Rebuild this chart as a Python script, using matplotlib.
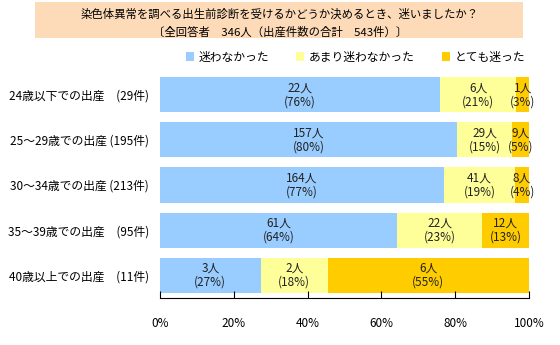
import numpy as np
import matplotlib
matplotlib.use('Agg')
import matplotlib.pyplot as plt
from matplotlib.patches import Rectangle

plt.rcParams['font.family'] = ['Noto Sans CJK JP', 'DejaVu Sans']

# データ
categories = ['24歳以下での出産　(29件)', '25～29歳での出産 (195件)', '30～34歳での出産 (213件)',
              '35～39歳での出産　(95件)', '40歳以上での出産　(11件)']
series_names = ['迷わなかった', 'あまり迷わなかった', 'とても迷った']
not_hesitant = [22, 157, 164, 61, 3]
little_hesitant = [6, 29, 41, 22, 2]
very_hesitant = [1, 9, 8, 12, 6]
pct_labels = [[76, 21, 3], [80, 15, 5], [77, 19, 4], [64, 23, 13], [27, 18, 55]]
colors = ['#99CCFF', '#FFFF99', '#FFCC00']

counts = np.array([not_hesitant, little_hesitant, very_hesitant], dtype=float)
totals = counts.sum(axis=0)
shares = counts / totals * 100

fig = plt.figure(figsize=(5.6, 3.45), dpi=100)
ax = fig.add_axes([0.2857, 0.1362, 0.659, 0.655])

y = np.arange(len(categories))
left = np.zeros(len(categories))
for i in range(3):
    ax.barh(y, shares[i], left=left, height=0.78, color=colors[i], label=series_names[i])
    for j in range(len(categories)):
        cx = left[j] + shares[i][j] / 2
        ax.text(cx, y[j], f'{int(counts[i][j])}人\n({pct_labels[j][i]}%)', ha='center', va='center',
                fontsize=8.5, linespacing=1.1, color='#222222')
    left += shares[i]

ax.set_ylim(len(categories) - 0.5, -0.5)
ax.set_xlim(0, 100)
ax.set_yticks(y)
ax.set_yticklabels(categories, fontsize=8.5)
ax.tick_params(axis='y', length=0, pad=8)
ax.set_xticks(np.arange(0, 101, 20))
ax.set_xticklabels([f'{v}%' for v in range(0, 101, 20)], fontsize=8.5)
ax.tick_params(axis='x', direction='in', length=5, pad=14)
for s in ['top', 'right', 'left']:
    ax.spines[s].set_visible(False)

# タイトル
fig.patches.append(Rectangle((35 / 560, 1 - 38 / 345), 488 / 560, 36 / 345,
                             transform=fig.transFigure, fc='#FDDAB8', ec='none'))
fig.text(0.5, 1 - 14 / 345, '染色体異常を調べる出生前診断を受けるかどうか決めるとき、迷いましたか？',
         ha='center', va='center', fontsize=8.2)
fig.text(0.5, 1 - 32 / 345, '〔全回答者　346人（出産件数の合計　543件）〕',
         ha='center', va='center', fontsize=8.2)

fig.legend(loc='center', bbox_to_anchor=(0.635, 1 - 57 / 345), ncol=3, frameon=False,
           fontsize=8.5, handlelength=0.7, handleheight=0.7, handletextpad=0.4, columnspacing=2.3)

fig.savefig('out.png', dpi=100)
